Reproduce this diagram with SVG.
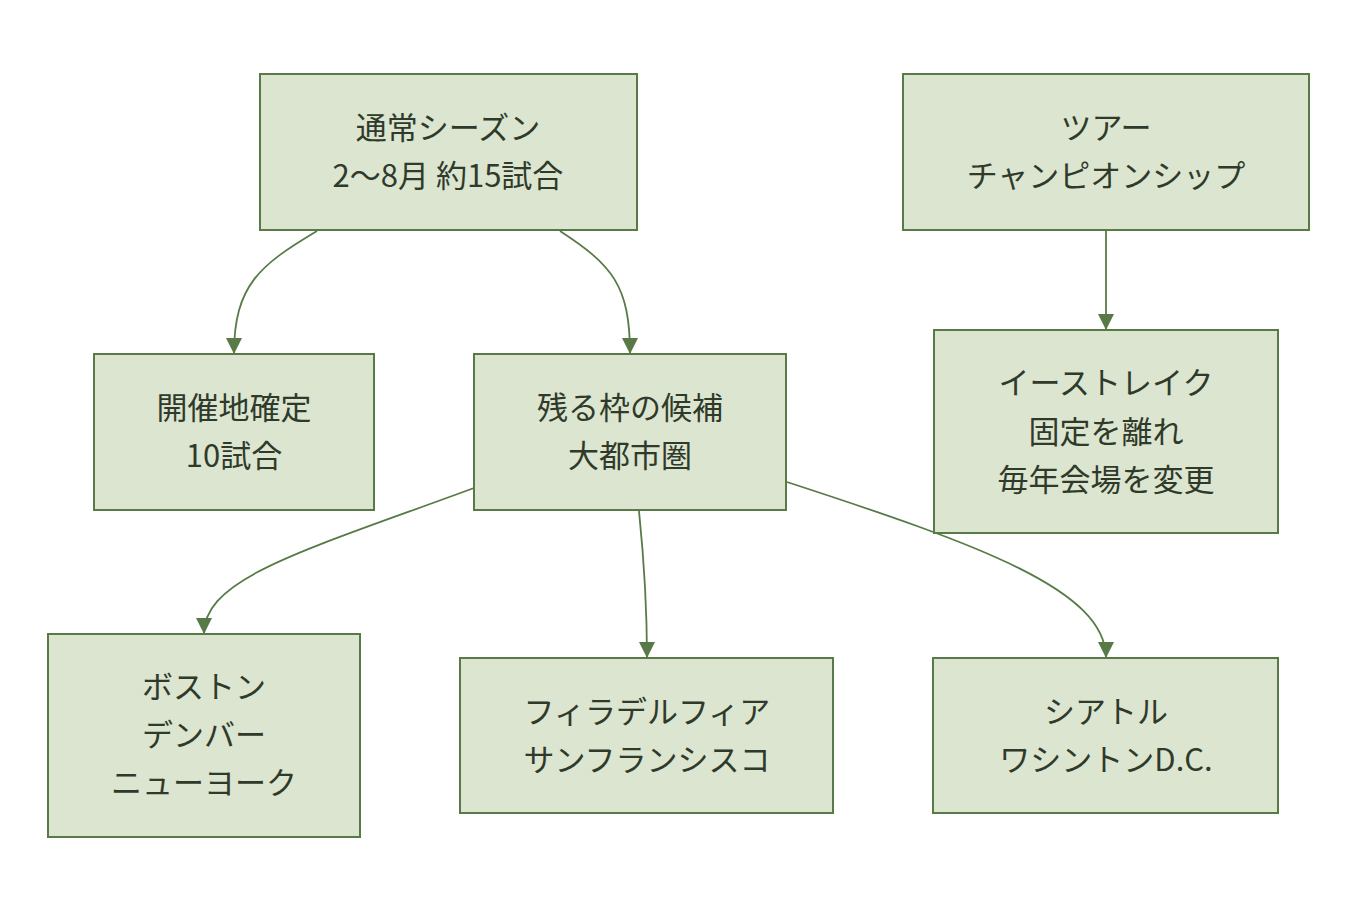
<svg xmlns="http://www.w3.org/2000/svg" width="1358" height="916" viewBox="0 0 1358 916">
<style>
.n rect{fill:#dce5cf;stroke:#587a47;stroke-width:2}
.n text{font-family:"Noto Sans CJK JP","Noto Sans",sans-serif;font-size:31px;fill:#2f3a2b;text-anchor:middle}
.e path{fill:none;stroke:#587a47;stroke-width:1.8}
</style>
<defs>
<marker id="ah" markerUnits="userSpaceOnUse" viewBox="0 0 10 10" refX="10" refY="5" markerWidth="16" markerHeight="16" orient="auto">
<path d="M0,0 L10,5 L0,10 z" fill="#587a47"/>
</marker>
</defs>
<rect width="1358" height="916" fill="#ffffff"/>
<g class="e">
<path d="M317,231 C260,265 234,285 234,354" marker-end="url(#ah)"/>
<path d="M560,231 C612,265 630,285 630,354" marker-end="url(#ah)"/>
<path d="M1106,231 L1106,330" marker-end="url(#ah)"/>
<path d="M474,488 C300,552 204,578 204,634" marker-end="url(#ah)"/>
<path d="M639,511 C644,560 647,600 647,658" marker-end="url(#ah)"/>
<path d="M787,482 C980,545 1106,590 1106,658" marker-end="url(#ah)"/>
</g>
<g id="n1" class="n"><rect x="260" y="74" width="377" height="156"/><text x="448" y="139">通常シーズン</text><text x="448" y="187">2〜8月 約15試合</text></g>
<g id="n2" class="n"><rect x="903" y="74" width="406" height="156"/><text x="1106" y="139">ツアー</text><text x="1106" y="187">チャンピオンシップ</text></g>
<g id="n3" class="n"><rect x="94" y="354" width="280" height="156"/><text x="234" y="419">開催地確定</text><text x="234" y="467">10試合</text></g>
<g id="n4" class="n"><rect x="474" y="354" width="312" height="156"/><text x="630" y="419">残る枠の候補</text><text x="630" y="467">大都市圏</text></g>
<g id="n5" class="n"><rect x="934" y="330" width="344" height="203"/><text x="1106" y="394">イーストレイク</text><text x="1106" y="443">固定を離れ</text><text x="1106" y="491">毎年会場を変更</text></g>
<g id="n6" class="n"><rect x="48" y="634" width="312" height="203"/><text x="204" y="698">ボストン</text><text x="204" y="746">デンバー</text><text x="204" y="794">ニューヨーク</text></g>
<g id="n7" class="n"><rect x="460" y="658" width="373" height="155"/><text x="647" y="723">フィラデルフィア</text><text x="647" y="771">サンフランシスコ</text></g>
<g id="n8" class="n"><rect x="933" y="658" width="345" height="155"/><text x="1106" y="723">シアトル</text><text x="1106" y="771">ワシントンD.C.</text></g>
</svg>
